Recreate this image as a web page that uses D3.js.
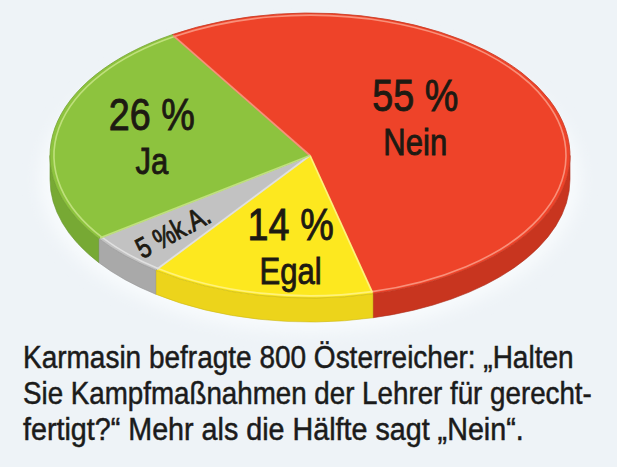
<!DOCTYPE html>
<html>
<head>
<meta charset="utf-8">
<script src="https://cdn.jsdelivr.net/npm/d3@7"></script>
<style>
  html, body { margin: 0; padding: 0; background: #eef3f7; }
  svg { display: block; }
</style>
</head>
<body>
<div id="chart"></div>
<script>
// survey answers, in clockwise order starting at the green/red border
var answers = ["Nein", "Egal", "k.A.", "Ja"];
var shares = [55, 14, 5, 26];
var pctLabels = ["55 %", "14 %", "5 %", "26 %"];
var topColors = ["#ee4329", "#fde81f", "#c2c2c2", "#8dc33e"];
var sideColors = ["#c8351f", "#ecd41b", "#a9a9a9", "#77a934"];
var rimColors = ["#f8907a", "#fff27a", "#e0e0e0", "#bfe07c"];
var caption = [
  "Karmasin befragte 800 Österreicher: \u201EHalten",
  "Sie Kampfmaßnahmen der Lehrer für gerecht-",
  "fertigt?\u201C Mehr als die Hälfte sagt \u201ENein\u201C."
];

var W = 617, H = 467;
var cx = 310, cy = 155.5, rx = 260, ry = 142.5, depth = 24;
var sy = ry / rx;
var start = -32 * Math.PI / 180;
var font = "'Liberation Sans', Arial, sans-serif";
var squeeze = 0.84;

var svg = d3.select("#chart").append("svg")
  .attr("width", W).attr("height", H);

svg.append("rect").attr("width", W).attr("height", H).attr("fill", "#eef3f7");

// soft glow under the pie
var defs = svg.append("defs");
defs.append("filter").attr("id", "blur")
  .append("feGaussianBlur").attr("stdDeviation", 8);
svg.append("ellipse")
  .attr("cx", cx).attr("cy", cy + depth)
  .attr("rx", rx + 10).attr("ry", ry + 10)
  .attr("fill", "#f8fbfd").attr("filter", "url(#blur)");

var data = answers.map(function(a, i) {
  return {name: a, value: shares[i], pct: pctLabels[i], i: i};
});

var pie = d3.pie()
  .sort(null)
  .value(function(d) { return d.value; })
  .startAngle(start)
  .endAngle(start + 2 * Math.PI);
var arcs = pie(data);

// everything below is drawn on a circle and squashed into an ellipse
var g = svg.append("g")
  .attr("transform", "translate(" + cx + "," + cy + ") scale(1," + sy + ")");

var T = depth / sy;

// front wall of the disc
function sidePath(a0, a1) {
  var lo = Math.max(a0, Math.PI / 2), hi = Math.min(a1, 3 * Math.PI / 2);
  if (hi <= lo) return null;
  var p = d3.path();
  p.moveTo(rx * Math.sin(lo), -rx * Math.cos(lo));
  p.arc(0, 0, rx, lo - Math.PI / 2, hi - Math.PI / 2, false);
  p.lineTo(rx * Math.sin(hi), -rx * Math.cos(hi) + T);
  p.arc(0, T, rx, hi - Math.PI / 2, lo - Math.PI / 2, true);
  p.closePath();
  return p.toString();
}

arcs.forEach(function(a) {
  var d = sidePath(a.startAngle, a.endAngle);
  if (!d) return;
  g.append("path")
    .attr("d", d)
    .attr("fill", sideColors[a.data.i])
    .attr("stroke", d3.color(sideColors[a.data.i]).darker(0.4))
    .attr("stroke-width", 0.6)
    .attr("vector-effect", "non-scaling-stroke");
});

// top faces
var arcGen = d3.arc().innerRadius(0).outerRadius(rx);
g.selectAll("path.top")
  .data(arcs)
  .join("path")
  .attr("class", "top")
  .attr("d", arcGen)
  .attr("fill", function(d) { return topColors[d.data.i]; })
  .attr("stroke", function(d) { return d3.color(topColors[d.data.i]).darker(0.5); })
  .attr("stroke-width", 0.8)
  .attr("vector-effect", "non-scaling-stroke");

// light bevel along the rim
var rimArc = d3.arc().innerRadius(rx - 4).outerRadius(rx - 4);
g.selectAll("path.rim")
  .data(arcs)
  .join("path")
  .attr("class", "rim")
  .attr("d", rimArc)
  .attr("fill", "none")
  .attr("stroke", function(d) { return rimColors[d.data.i]; })
  .attr("stroke-width", 1.6)
  .attr("vector-effect", "non-scaling-stroke");

// light seam on the start border of each slice
g.selectAll("line.seam")
  .data(arcs)
  .join("line")
  .attr("class", "seam")
  .attr("x1", 0).attr("y1", 0)
  .attr("x2", function(d) { return (rx - 2) * Math.sin(d.startAngle); })
  .attr("y2", function(d) { return -(rx - 2) * Math.cos(d.startAngle); })
  .attr("stroke", function(d) { return rimColors[d.data.i]; })
  .attr("stroke-width", 1.8)
  .attr("vector-effect", "non-scaling-stroke");

// labels, placed along each slice's middle direction
var place = {Nein: {f: 0.44, dy: -12}, Egal: {f: 0.66, dy: 0, dx: 14}, "k.A.": {f: 0.74, dy: 2}, Ja: {f: 0.62, dy: 0}};
var ink = "#1d1a12";

function label(x, y, size, txt, rot, sx) {
  svg.append("text")
    .attr("transform", "translate(" + x + "," + y + ")" + (rot ? " rotate(" + rot + ")" : "") + " scale(" + (sx || squeeze) + ",1)")
    .attr("text-anchor", "middle")
    .attr("font-family", font)
    .attr("font-size", size)
    .attr("fill", ink).attr("stroke", ink).attr("stroke-width", 0.9)
    .text(txt);
}

arcs.forEach(function(a) {
  var mid = (a.startAngle + a.endAngle) / 2;
  var p = place[a.data.name];
  var x = cx + p.f * rx * Math.sin(mid) + (p.dx || 0);
  var y = cy - p.f * ry * Math.cos(mid) + p.dy;
  if (a.data.name === "k.A.") {
    var ang = Math.atan2(ry * Math.cos(mid), -rx * Math.sin(mid)) * 180 / Math.PI;
    label(x, y, 29, a.data.pct + "k.A.", ang + " 0 0) translate(0,10", 0.8);
    return;
  }
  label(x, y - 8, 45, a.data.pct);
  label(x, y + 36, 37, a.data.name);
});

// caption, squeezed to the reference line widths
var capWidths = [551, 569, 501];
svg.append("g").selectAll("text")
  .data(caption)
  .join("text")
  .attr("font-family", font)
  .attr("font-size", 31)
  .attr("fill", "#1b1b1b").attr("stroke", "#1b1b1b").attr("stroke-width", 0.5)
  .text(function(d) { return d; })
  .attr("transform", function(d, i) {
    var w = this.getComputedTextLength();
    return "translate(23," + (368 + i * 36) + ") scale(" + (capWidths[i] / w) + ",1)";
  });
</script>
</body>
</html>
